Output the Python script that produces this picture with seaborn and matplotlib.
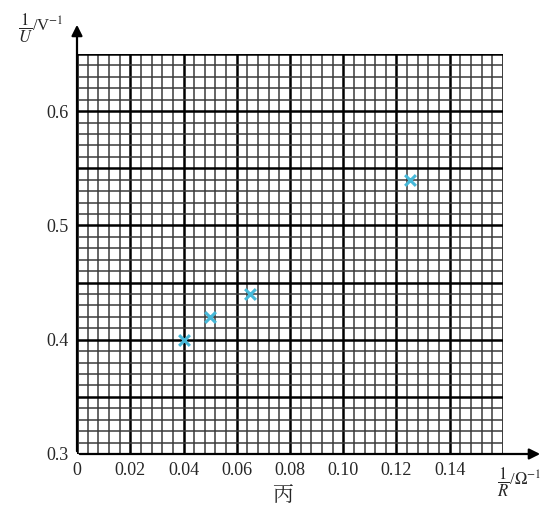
import numpy as np
import pandas as pd
import matplotlib
matplotlib.use("Agg")
import matplotlib.pyplot as plt
import seaborn as sns

# data
inv_r = [0.04, 0.05, 0.065, 0.125]
inv_u = [0.40, 0.42, 0.44, 0.54]
x_ticks = [0, 0.02, 0.04, 0.06, 0.08, 0.10, 0.12, 0.14]
x_tick_labels = ["0", "0.02", "0.04", "0.06", "0.08", "0.10", "0.12", "0.14"]
y_ticks = [0.3, 0.4, 0.5, 0.6]
y_tick_labels = ["0.3", "0.4", "0.5", "0.6"]

df = pd.DataFrame({"inv_r": inv_r, "inv_u": inv_u})

sns.set_style("white")
plt.rcParams['font.family'] = ['Liberation Serif', 'Noto Sans CJK SC', 'DejaVu Sans']
plt.rcParams['mathtext.fontset'] = 'stix'

fig = plt.figure(figsize=(5.6, 5.19), dpi=100)
ax = fig.add_axes([77/560, 1 - 454/519, 426/560, 400/519])

ax.set_xlim(0, 0.16)
ax.set_ylim(0.3, 0.65)

### graph paper grid
for xv in np.arange(0, 0.1601, 0.004):
    major = abs(round(xv / 0.02) * 0.02 - xv) < 1e-6
    ax.axvline(xv, color='black' if major else '#3a3a3a', lw=1.8 if major else 1.1, zorder=1)
for yv in np.arange(0.3, 0.6501, 0.01):
    major = abs(round(yv / 0.05) * 0.05 - yv) < 1e-6
    ax.axhline(yv, color='black' if major else '#3a3a3a', lw=1.8 if major else 1.1, zorder=1)

sns.scatterplot(data=df, x="inv_r", y="inv_u", ax=ax, marker='x', s=60,
                color='#46b8d8', linewidth=2.2, zorder=5)

ax.set_xticks(x_ticks)
ax.set_xticklabels(x_tick_labels, fontsize=13)
ax.set_yticks(y_ticks)
ax.set_yticklabels(y_tick_labels, fontsize=13)
ax.tick_params(length=0, pad=6)
ax.set_xlabel("")
ax.set_ylabel("")
for s in ax.spines.values():
    s.set_visible(False)

### axes with arrows
ax.annotate("", xy=(0.175, 0.3), xytext=(0, 0.3), xycoords='data',
            arrowprops=dict(arrowstyle='-|>', color='black', lw=1.6, mutation_scale=16),
            annotation_clip=False)
ax.annotate("", xy=(0, 0.678), xytext=(0, 0.3), xycoords='data',
            arrowprops=dict(arrowstyle='-|>', color='black', lw=1.6, mutation_scale=16),
            annotation_clip=False)

fig.text(18/560, 1 - 28/519, r'$\dfrac{1}{U}$/V$^{-1}$', fontsize=12, va='center', ha='left')
fig.text(497/560, 1 - 482/519, r'$\dfrac{1}{R}$/$\Omega^{-1}$', fontsize=12, va='center', ha='left')
fig.text(283/560, 1 - 495/519, "丙", fontsize=15, va='center', ha='center',
         family=['Noto Serif CJK SC', 'Noto Sans CJK SC', 'DejaVu Sans'])

fig.savefig("out.png", dpi=100)
